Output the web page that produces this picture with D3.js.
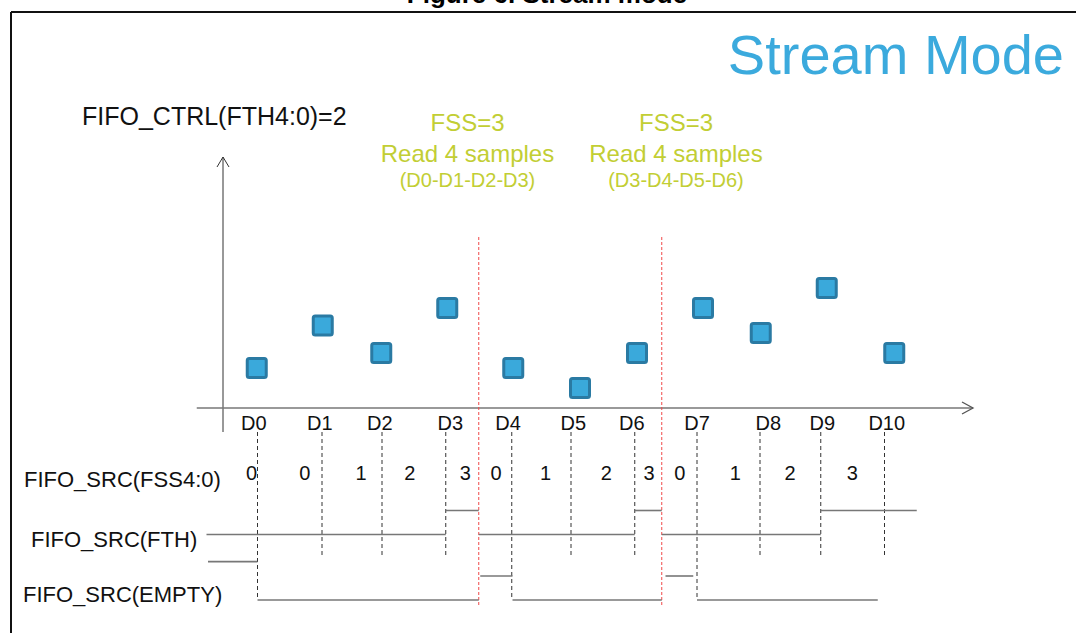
<!DOCTYPE html>
<html>
<head>
<meta charset="utf-8">
<script src="https://cdn.jsdelivr.net/npm/d3@7"></script>
<style>
  body { margin: 0; background: #fff; }
  svg { display: block; font-family: "Liberation Sans", Arial, sans-serif; }
</style>
</head>
<body>
<svg id="chart" width="1076" height="633"></svg>
<script>
// samples in the FIFO (time in arbitrary units, value in arbitrary units)
const sampleNames = ["D0", "D1", "D2", "D3", "D4", "D5", "D6", "D7", "D8", "D9", "D10"];
const sampleT = [46, 132, 212, 297, 385, 464, 549, 632, 716, 797, 882]; // dashed timing lines
const labelT = [41, 129, 209, 303, 380, 467, 545, 632, 727, 799, 885];
const markerT = [45, 133, 211, 299, 387, 476, 552, 640, 717, 805, 895];
const sampleValues = [1.6, 3.3, 2.2, 4.0, 1.6, 0.8, 2.2, 4.0, 3.0, 4.8, 2.2];
const longDash = [0, 4, 7]; // lines that reach down to the EMPTY row

// red "read" instants
const readT = [341, 585];
const readNotes = [
  { center: 326, lines: ["FSS=3", "Read 4 samples", "(D0-D1-D2-D3)"] },
  { center: 604, lines: ["FSS=3", "Read 4 samples", "(D3-D4-D5-D6)"] }
];

// FIFO_SRC(FSS4:0) values
const fssValues = [0, 0, 1, 2, 3, 0, 1, 2, 3, 0, 1, 2, 3];
const fssT = [38, 109, 184, 249, 323, 364, 430, 511, 568, 609, 683, 756, 839];

// signals: [start, end, level]
const fthSegments = [[-22, 297, 0], [297, 341, 1], [341, 549, 0], [549, 585, 1], [585, 797, 0], [797, 925, 1]];
const emptySegments = [[-20, 46, 1.6], [46, 341, 0], [343, 386, 1], [386, 585, 0], [590, 627, 1], [632, 873, 0]];

const svg = d3.select("#chart");
const x = d3.scaleLinear().domain([0, 1000]).range([223, 973]);
const y = d3.scaleLinear().domain([0, 10]).range([408, 158]);
const lvl = d3.scaleLinear().domain([0, 1]).range([0, -24]);

// frame + figure caption (cut by the top edge, as in the source)
svg.append("line").attr("x1", 11).attr("x2", 1076).attr("y1", 12).attr("y2", 12)
  .attr("stroke", "#111").attr("stroke-width", 2);
svg.append("line").attr("x1", 11).attr("x2", 11).attr("y1", 12).attr("y2", 633)
  .attr("stroke", "#111").attr("stroke-width", 2);
svg.append("text").attr("x", 547).attr("y", 3).attr("text-anchor", "middle")
  .style("font-weight", "bold").style("font-size", "26px").text("Figure 6. Stream mode");

svg.append("text").attr("x", 1064).attr("y", 74).attr("text-anchor", "end")
  .style("font-size", "56px").style("fill", "#3BAADD").text("Stream Mode");

svg.append("text").attr("x", 82).attr("y", 125)
  .style("font-size", "25px").style("fill", "#111").text("FIFO_CTRL(FTH4:0)=2");

// axes
const ax = svg.append("g").attr("fill", "none");
ax.append("line").attr("x1", x(0)).attr("x2", x(0)).attr("y1", 432).attr("y2", 157)
  .attr("stroke", "#333").attr("stroke-width", 1);
ax.append("path").attr("d", `M${x(0) - 6},${167} L${x(0)},${157} L${x(0) + 6},${167}`)
  .attr("stroke", "#333").attr("stroke-width", 1);
ax.append("line").attr("x1", x(-35)).attr("x2", x(1000)).attr("y1", y(0)).attr("y2", y(0))
  .attr("stroke", "#777").attr("stroke-width", 1.6);
ax.append("path").attr("d", `M${x(1000) - 11},${y(0) - 6} L${x(1000)},${y(0)} L${x(1000) - 11},${y(0) + 6}`)
  .attr("stroke", "#555").attr("stroke-width", 1.3);

// dashed timing lines
svg.append("g").selectAll("line").data(sampleT).join("line")
  .attr("x1", d => x(d)).attr("x2", d => x(d))
  .attr("y1", 432).attr("y2", (d, i) => longDash.includes(i) ? 600 : 557)
  .attr("stroke", "#333").attr("stroke-width", 1).attr("stroke-dasharray", "4,3");

// red read lines
svg.append("g").selectAll("line").data(readT).join("line")
  .attr("x1", d => x(d)).attr("x2", d => x(d)).attr("y1", 237).attr("y2", 606)
  .attr("stroke", "#F04848").attr("stroke-width", 1).attr("stroke-dasharray", "3,2");

// read annotations
const notes = svg.append("g").style("fill", "#C2CE34").attr("text-anchor", "middle");
readNotes.forEach(n => {
  notes.append("text").attr("x", x(n.center)).attr("y", 131).style("font-size", "24px").text(n.lines[0]);
  notes.append("text").attr("x", x(n.center)).attr("y", 162).style("font-size", "24px").text(n.lines[1]);
  notes.append("text").attr("x", x(n.center)).attr("y", 187).style("font-size", "20px").text(n.lines[2]);
});

// samples
svg.append("g").selectAll("rect").data(sampleValues).join("rect")
  .attr("x", (d, i) => x(markerT[i]) - 9.5).attr("y", d => y(d) - 9.5)
  .attr("width", 19).attr("height", 19).attr("rx", 2)
  .attr("fill", "#3AA9DB").attr("stroke", "#2A7AA3").attr("stroke-width", 3);

svg.append("g").selectAll("text").data(sampleNames).join("text")
  .attr("x", (d, i) => x(labelT[i])).attr("y", 430).attr("text-anchor", "middle")
  .style("font-size", "20px").style("fill", "#111").text(d => d);

// signal rows
const rowText = svg.append("g").style("font-size", "22px").style("fill", "#111");
rowText.append("text").attr("x", 24).attr("y", 487).text("FIFO_SRC(FSS4:0)");
rowText.append("text").attr("x", 31).attr("y", 547).text("FIFO_SRC(FTH)");
rowText.append("text").attr("x", 23).attr("y", 602).text("FIFO_SRC(EMPTY)");

svg.append("g").selectAll("text").data(fssValues).join("text")
  .attr("x", (d, i) => x(fssT[i])).attr("y", 480).attr("text-anchor", "middle")
  .style("font-size", "20px").style("fill", "#111").text(d => d);

const drawSignal = (segs, base) => {
  svg.append("g").selectAll("line").data(segs).join("line")
    .attr("x1", d => x(d[0])).attr("x2", d => x(d[1]))
    .attr("y1", d => base + lvl(d[2])).attr("y2", d => base + lvl(d[2]))
    .attr("stroke", "#777").attr("stroke-width", 1.6);
};
drawSignal(fthSegments, 534.5);
drawSignal(emptySegments, 600);
</script>
</body>
</html>
